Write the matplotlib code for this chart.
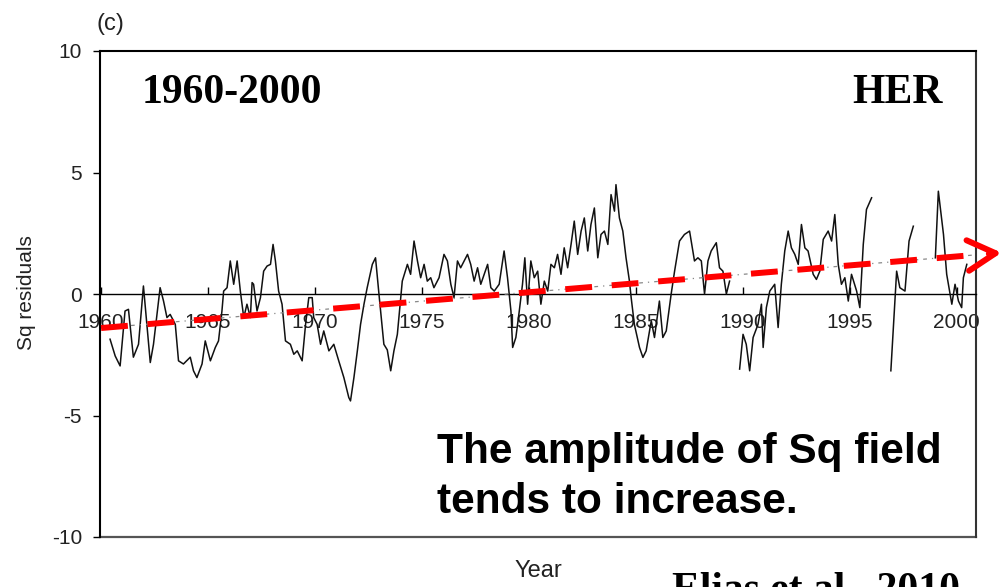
import numpy as np
import matplotlib.pyplot as plt

# Sq residuals (NaN = gap in the record)
years = [1960.42, 1960.66, 1960.89, 1961.12, 1961.28, 1961.51, 1961.75, 1961.98,
         1962.30, 1962.45, 1962.76, 1962.92, 1963.08, 1963.23, 1963.47, 1963.62,
         1963.85, 1964.17, 1964.32, 1964.48, 1964.72, 1964.87, 1965.11, 1965.34,
         1965.49, 1965.65, 1965.73, 1965.89, 1966.04, 1966.20, 1966.36, 1966.51,
         1966.67, 1966.82, 1966.98, 1967.06, 1967.13, 1967.29, 1967.45, 1967.60,
         1967.76, 1967.92, 1968.04, 1968.15, 1968.30, 1968.46, 1968.62, 1968.85,
         1969.01, 1969.17, 1969.40, 1969.56, 1969.71, 1969.87, 1969.94, 1970.10,
         1970.26, 1970.41, 1970.65, 1970.88, 1971.11, 1971.35, 1971.58, 1971.66,
         1971.82, 1971.98, 1972.13, 1972.29, 1972.44, 1972.68, 1972.83, 1972.99,
         1973.22, 1973.38, 1973.54, 1973.69, 1973.85, 1974.08, 1974.32, 1974.47,
         1974.63, 1974.79, 1974.94, 1975.10, 1975.25, 1975.41, 1975.56, 1975.80,
         1976.03, 1976.19, 1976.35, 1976.50, 1976.66, 1976.81, 1977.13, 1977.28,
         1977.44, 1977.60, 1977.75, 1978.07, 1978.22, 1978.38, 1978.61, 1978.84,
         1979.00, 1979.16, 1979.24, 1979.39, 1979.55, 1979.70, 1979.81, 1979.94,
         1980.09, 1980.25, 1980.41, 1980.56, 1980.72, 1980.88, 1981.03, 1981.19,
         1981.34, 1981.50, 1981.65, 1981.81, 1981.97, 1982.12, 1982.28, 1982.44,
         1982.59, 1982.75, 1982.90, 1983.06, 1983.22, 1983.37, 1983.53, 1983.69,
         1983.84, 1984.00, 1984.07, 1984.23, 1984.39, 1984.54, 1984.70, 1984.78,
         1984.93, 1985.17, 1985.33, 1985.48, 1985.72, 1985.87, 1986.10, 1986.26,
         1986.42, 1986.65, 1986.81, 1987.04, 1987.27, 1987.51, 1987.74, 1987.90,
         1988.06, 1988.21, 1988.37, 1988.52, 1988.76, 1988.91, 1989.07, 1989.23,
         1989.38, 1989.60,
         1989.85, 1990.01, 1990.16, 1990.32, 1990.48, 1990.71, 1990.87, 1990.95,
         1991.10, 1991.26, 1991.49, 1991.65, 1991.80, 1991.96, 1992.12, 1992.27,
         1992.43, 1992.59, 1992.74, 1992.90, 1993.05, 1993.29, 1993.44, 1993.60,
         1993.76, 1993.99, 1994.15, 1994.30, 1994.46, 1994.61, 1994.77, 1994.93,
         1995.08, 1995.32, 1995.47, 1995.63, 1995.78, 1996.02, 1996.50,
         1996.92, 1997.19, 1997.34, 1997.58, 1997.77, 1997.97, 1998.50,
         1999.00, 1999.14, 1999.38, 1999.53, 1999.77, 1999.92, 2000.08, 2000.23,
         2000.31, 2000.47]
residuals = [-1.86, -2.55, -2.96, -0.70, -0.63, -2.60, -2.07, 0.33,
             -2.82, -2.07, 0.26, -0.29, -0.97, -0.84, -1.25, -2.75,
             -2.88, -2.60, -3.16, -3.44, -2.88, -1.93, -2.75, -2.20,
             -1.93, -0.70, 0.12, 0.26, 1.36, 0.40, 1.36, 0.12,
             -0.97, -0.42, -0.97, 0.47, 0.40, -0.70, -0.15, 0.94,
             1.15, 1.22, 2.04, 1.36, 0.12, -0.42, -1.93, -2.07,
             -2.48, -2.34, -2.75, -1.25, -0.15, -0.15, -0.97, -1.25,
             -2.07, -1.52, -2.34, -2.07, -2.75, -3.44, -4.26, -4.40,
             -3.44, -2.34, -1.25, -0.42, 0.26, 1.22, 1.49, 0.00,
             -2.07, -2.30, -3.16, -2.34, -1.66, 0.53, 1.22, 0.81,
             2.18, 1.36, 0.67, 1.22, 0.53, 0.67, 0.26, 0.67,
             1.63, 1.36, 0.40, -0.15, 1.36, 1.08, 1.63, 1.22,
             0.53, 1.08, 0.40, 1.22, 0.26, 0.12, 0.40, 1.77,
             0.67, -0.70, -2.20, -1.79, -0.70, 0.40, 1.49, -0.42,
             1.36, 0.67, 0.94, -0.42, 0.53, 0.12, 1.22, 1.08,
             1.63, 0.81, 1.90, 1.08, 2.04, 3.00, 1.63, 2.59,
             3.13, 1.77, 2.86, 3.54, 1.49, 2.45, 2.59, 2.04,
             4.09, 3.41, 4.50, 3.13, 2.59, 1.49, 0.53, -0.15,
             -1.25, -2.20, -2.61, -2.34, -1.10, -1.79, -0.29, -1.79,
             -1.52, 0.00, 0.94, 2.18, 2.45, 2.59, 1.36, 1.49,
             1.36, 0.00, 1.36, 1.77, 2.11, 1.08, 0.94, 0.00,
             0.53, np.nan,
             -3.09, -1.66, -2.07, -3.16, -1.79, -1.25, -0.42, -2.20,
             -0.56, 0.12, 0.40, -1.38, 0.40, 1.77, 2.59, 1.90,
             1.63, 1.22, 2.86, 1.90, 1.77, 0.81, 0.60, 0.94,
             2.25, 2.59, 2.18, 3.27, 1.22, 0.40, 0.67, -0.29,
             0.81, 0.12, -0.56, 2.04, 3.48, 3.96, np.nan,
             -3.16, 0.94, 0.26, 0.12, 2.18, 2.79, np.nan,
             1.49, 4.23, 2.45, 0.81, -0.42, 0.40, -0.29, -0.56,
             0.67, 1.22]

# hand-drawn trend arrow (start, tip)
trend_years = [1960.0, 2002.1]
trend_values = [-1.40, 1.70]

plt.rcParams['font.family'] = ['Liberation Sans', 'DejaVu Sans']

W, H = 1001, 587
fig = plt.figure(figsize=(W / 100, H / 100), dpi=100)
ax = fig.add_axes([100 / W, 1 - 537 / H, 876 / W, 486 / H])

ax.plot(years, residuals, color='#111111', lw=1.1, zorder=3)

# thin grey regression line
ax.plot(trend_years, trend_values, color='#888888', lw=0.9,
        dashes=(3, 4, 1, 4), zorder=4)

# red dashed arrow drawn on top
x_end = 2000.9
y_end = np.interp(x_end, trend_years, trend_values)
ax.plot([trend_years[0], x_end], [trend_values[0], y_end], color='red',
        lw=4.3, dashes=(4.5, 3.3), dash_capstyle='butt', clip_on=False,
        zorder=5)
ax.annotate('', xy=(trend_years[1], trend_values[1]),
            xytext=(x_end + 0.6, np.interp(x_end + 0.6, trend_years, trend_values)),
            arrowprops=dict(arrowstyle='->,head_length=1.0,head_width=0.55',
                            color='red', lw=4.3, mutation_scale=20,
                            shrinkA=0, shrinkB=0),
            annotation_clip=False, zorder=5)

ax.set_xlim(1959.95, 2000.9)
ax.set_ylim(-10, 10)

# x axis drawn through zero, frame line kept at the bottom
ax.spines['bottom'].set_position(('data', 0))
ax.spines['bottom'].set_linewidth(1.0)
ax.plot([0, 1], [0, 0], transform=ax.transAxes, color='#555555', lw=1.6,
        clip_on=False)
for s in ['left', 'top']:
    ax.spines[s].set_linewidth(1.5)
ax.spines['right'].set_linewidth(1.5)
ax.spines['right'].set_color('#333333')

ax.set_xticks(range(1960, 2001, 5))
ax.set_yticks([-10, -5, 0, 5, 10])
ax.set_yticklabels(['-10', '-5', '0', '5', '10'])
ax.tick_params(axis='x', direction='in', length=5, width=1.0, pad=14,
               labelsize=15, labelcolor='#222222')
ax.tick_params(axis='y', direction='out', length=5, width=1.0, pad=8,
               labelsize=15, labelcolor='#222222')

fig.text(27 / W, 1 - 293 / H, 'Sq residuals', rotation=90, ha='center',
         va='center', fontsize=15, color='#222222')
fig.text(538 / W, 1 - 577 / H, 'Year', ha='center', va='baseline',
         fontsize=17, color='#222222')
fig.text(96 / W, 1 - 30 / H, '(c)', ha='left', va='baseline', fontsize=17,
         color='#222222')

serif = ['Liberation Serif', 'DejaVu Serif']
fig.text(142 / W, 1 - 103 / H, '1960-2000', family=serif, weight='bold',
         fontsize=30, ha='left', va='baseline')
fig.text(943 / W, 1 - 103 / H, 'HER', family=serif, weight='bold',
         fontsize=30, ha='right', va='baseline')
fig.text(437 / W, 1 - 463 / H, 'The amplitude of Sq field', weight='bold',
         fontsize=30.5, ha='left', va='baseline')
fig.text(437 / W, 1 - 513 / H, 'tends to increase.', weight='bold',
         fontsize=30.5, ha='left', va='baseline')
# citation runs off the bottom edge, as in the source slide
fig.text(960 / W, 1 - 600 / H, 'Elias et al., 2010', family=serif,
         weight='bold', fontsize=30, ha='right', va='baseline')

fig.savefig('out.png', dpi=100)
